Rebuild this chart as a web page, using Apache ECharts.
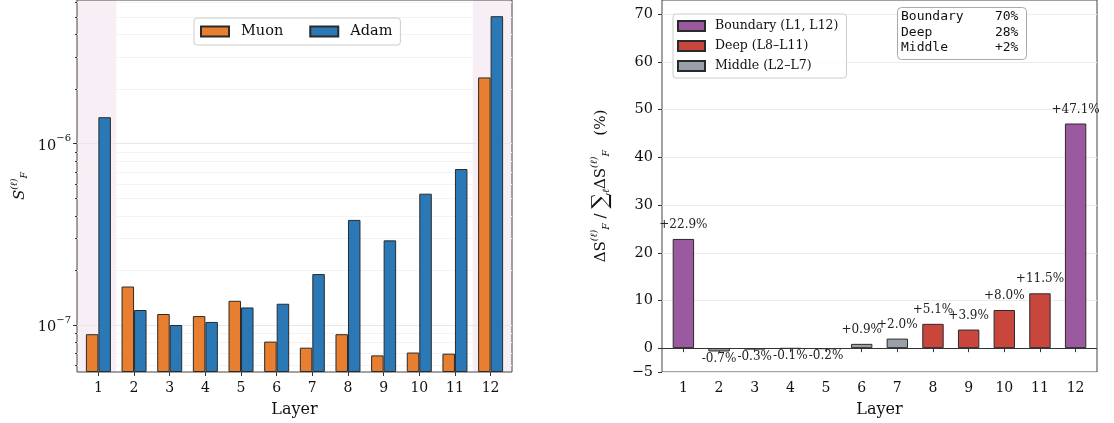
<!DOCTYPE html>
<html><head><meta charset="utf-8">
<script src="https://cdn.jsdelivr.net/npm/echarts@6/dist/echarts.min.js"></script>
<style>html,body{margin:0;padding:0;background:#fff}#c{width:1114px;height:423px}</style>
</head><body><div id="c"></div>
<script>
// ---------- data ----------
const layers = [1,2,3,4,5,6,7,8,9,10,11,12];
const muon = [8.9e-8,1.63e-7,1.15e-7,1.12e-7,1.36e-7,8.1e-8,7.5e-8,8.9e-8,6.8e-8,7.05e-8,6.95e-8,2.32e-6];
const adam = [1.40e-6,1.21e-7,1.0e-7,1.04e-7,1.25e-7,1.31e-7,1.91e-7,3.8e-7,2.93e-7,5.3e-7,7.25e-7,5.05e-6];
const share = [22.9,-0.7,-0.3,-0.1,-0.2,0.9,2.0,5.1,3.9,8.0,11.5,47.1];
const layerGroup = ['B','M','M','M','M','M','M','D','D','D','D','B'];
const groupKeys = ['B','D','M'];
const groupNames = ['Boundary (L1, L12)','Deep (L8–L11)','Middle (L2–L7)'];
const summaryNames = ['Boundary','Deep','Middle'];
const summaryVals = ['70%','28%','+2%'];
const logMajor = [1e-7,1e-6];
const logMinor = [6e-8,7e-8,8e-8,9e-8,2e-7,3e-7,4e-7,5e-7,6e-7,7e-7,8e-7,9e-7,2e-6,3e-6,4e-6,5e-6,6e-6];
const shareTicks = [-5,0,10,20,30,40,50,60,70];
const shadeSpans = [[0.4,1.5],[11.5,12.6]];

// ---------- styles ----------
const SERIF = 'DejaVu Serif';
const colMuon = '#E87E2F', colAdam = '#2A78B5';
const groupColors = {B:'#9B59A0', D:'#C9463D', M:'#9AA0A8'};
const edge = '#2a2a2a';
const logMin = 5.506e-8, logMax = 6.203e-6;

const chart = echarts.init(document.getElementById('c'), null, {renderer:'canvas'});

function xAxisFor(grid){
  return {
    type:'value', gridIndex:grid, min:0.4, max:12.6,
    axisLine:{show:false},
    axisTick:{show:true, customValues:layers, length:4, lineStyle:{color:'#333'}},
    axisLabel:{customValues:layers, margin:9, fontFamily:SERIF, fontSize:14, color:'#111'},
    splitLine:{show:false},
    name:'Layer', nameLocation:'middle', nameGap:30,
    nameTextStyle:{fontFamily:SERIF, fontSize:16, color:'#111'}
  };
}

const shareSeries = groupKeys.map((g, gi) => ({
  type:'bar', name:groupNames[gi], xAxisIndex:1, yAxisIndex:2,
  barWidth:21.4, barGap:'-100%',
  itemStyle:{color:groupColors[g], borderColor:edge, borderWidth:1},
  data: layers.map((l,i)=>({l,i})).filter(o=>layerGroup[o.i]===g).map(o=>({
    value:[o.l, share[o.i]],
    label:{position: share[o.i] >= 0 ? 'top' : 'bottom', distance: share[o.i] >= 0 ? 8 : 1}
  })),
  label:{show:true, fontFamily:SERIF, fontSize:12, color:'#222',
    formatter: p => (p.value[1] > 0 ? '+' : '') + p.value[1].toFixed(1) + '%'}
}));

const option = {
  backgroundColor:'#fff',
  animation:false,
  grid:[
    {left:77, top:0, width:435, height:372, show:true, borderColor:'#444', borderWidth:1, backgroundColor:'transparent'},
    {left:662, top:0, width:435, height:372, show:true, borderColor:'#444', borderWidth:1, backgroundColor:'transparent'}
  ],
  xAxis:[xAxisFor(0), xAxisFor(1)],
  yAxis:[
    {
      type:'log', gridIndex:0, position:'left', min:logMin, max:logMax, startValue:logMin,
      axisLine:{show:false},
      axisTick:{show:true, customValues:logMajor, length:4, lineStyle:{color:'#333'}},
      axisLabel:{customValues:logMajor, margin:6,
        formatter: v => '{b|10}{s|−' + (-Math.round(Math.log10(v))) + '}',
        rich:{b:{fontFamily:SERIF, fontSize:14.5, color:'#111', lineHeight:20, verticalAlign:'bottom'},
              s:{fontFamily:SERIF, fontSize:10, color:'#111', verticalAlign:'top', lineHeight:20}}},
      splitLine:{show:true, lineStyle:{color:'#e8e8e8', width:1}},
      name:'{it|S}{sup|(ℓ)}{sub|F}', nameLocation:'middle', nameGap:47, nameRotate:90,
      nameTextStyle:{rich:{
        it:{fontFamily:SERIF, fontStyle:'italic', fontSize:15, color:'#111', lineHeight:20},
        sup:{fontFamily:SERIF, fontStyle:'italic', fontSize:9.5, color:'#111', verticalAlign:'top', lineHeight:20},
        sub:{fontFamily:SERIF, fontStyle:'italic', fontSize:9.5, color:'#111', verticalAlign:'bottom', lineHeight:20}
      }}
    },
    {
      type:'log', gridIndex:0, position:'left', offset:0, min:logMin, max:logMax,
      axisLine:{show:false},
      axisTick:{show:true, customValues:logMinor, length:2, lineStyle:{color:'#333'}},
      axisLabel:{show:false},
      splitLine:{show:true, lineStyle:{color:'#f3f3f3', width:1}}
    },
    {
      type:'value', gridIndex:1, position:'left', min:-5, max:73,
      axisLine:{show:false},
      axisTick:{show:true, customValues:shareTicks, length:4, lineStyle:{color:'#333'}},
      axisLabel:{customValues:shareTicks, margin:9, fontFamily:SERIF, fontSize:14.5, color:'#111',
        formatter: v => v < 0 ? '−' + Math.abs(v) : String(v)},
      splitLine:{show:true, lineStyle:{color:'#ebebeb', width:1}},
      name:'{a|ΔS}{sup|(ℓ)}{sub|F}{a| / }{big|∑}{sub|ℓ}{a|ΔS}{sup|(ℓ)}{sub|F}{a|   (%)}',
      nameLocation:'middle', nameGap:50, nameRotate:90,
      nameTextStyle:{rich:{
        a:{fontFamily:SERIF, fontSize:15, color:'#111', lineHeight:22},
        big:{fontFamily:SERIF, fontSize:22, color:'#111', lineHeight:22},
        sup:{fontFamily:SERIF, fontStyle:'italic', fontSize:9.5, color:'#111', verticalAlign:'top', lineHeight:22},
        sub:{fontFamily:SERIF, fontStyle:'italic', fontSize:9.5, color:'#111', verticalAlign:'bottom', lineHeight:22}
      }}
    }
  ],
  legend:[
    {
      data:['Muon','Adam'], orient:'horizontal', left:194, top:18,
      icon:'rect', itemWidth:28, itemHeight:10, itemGap:26,
      padding:[6,8,6,6], backgroundColor:'rgba(255,255,255,0.85)',
      borderColor:'#cccccc', borderWidth:1, borderRadius:3,
      textStyle:{fontFamily:SERIF, fontSize:14.5, color:'#111', padding:[0,0,0,7]}
    },
    {
      data:groupNames, orient:'vertical', left:673, top:14,
      icon:'rect', itemWidth:27, itemHeight:10, itemGap:6,
      padding:[5,8,5,4], backgroundColor:'rgba(255,255,255,0.85)',
      borderColor:'#cccccc', borderWidth:1, borderRadius:3,
      textStyle:{fontFamily:SERIF, fontSize:12.5, color:'#111', padding:[0,0,0,5], lineHeight:14}
    }
  ],
  graphic:[
    {type:'rect', left:897, top:7, shape:{width:129, height:52, r:4},
     style:{fill:'#fff', stroke:'#aaaaaa', lineWidth:1}, z:10},
    {type:'text', left:901, top:9, z:11,
     style:{text: summaryNames.map((n,i)=> n + ' '.repeat(15 - n.length - summaryVals[i].length) + summaryVals[i]).join('\n'),
       font:'13px "DejaVu Sans Mono"', lineHeight:15.5, fill:'#111'}}
  ],
  series:[
    {
      type:'line', xAxisIndex:0, yAxisIndex:0, data:[], z:-1, silent:true,
      markArea:{silent:true, z:-1, itemStyle:{color:'#f7eff5'},
        data: shadeSpans.map(s => [{xAxis:s[0]},{xAxis:s[1]}])}
    },
    {
      type:'bar', name:'Muon', xAxisIndex:0, yAxisIndex:0, barWidth:12.5, barGap:'0%',
      itemStyle:{color:colMuon, borderColor:edge, borderWidth:1},
      data: layers.map((l,i)=>[l, muon[i]])
    },
    {
      type:'bar', name:'Adam', xAxisIndex:0, yAxisIndex:0, barWidth:12.5, barGap:'0%',
      itemStyle:{color:colAdam, borderColor:edge, borderWidth:1},
      data: layers.map((l,i)=>[l, adam[i]])
    },
    ...shareSeries,
    {
      type:'line', xAxisIndex:1, yAxisIndex:2, data:[], z:5, silent:true,
      markLine:{silent:true, symbol:'none', label:{show:false},
        lineStyle:{color:'#333', width:1, type:'solid'}, data:[{yAxis:0}]}
    }
  ]
};
chart.setOption(option);
</script>
</body></html>
